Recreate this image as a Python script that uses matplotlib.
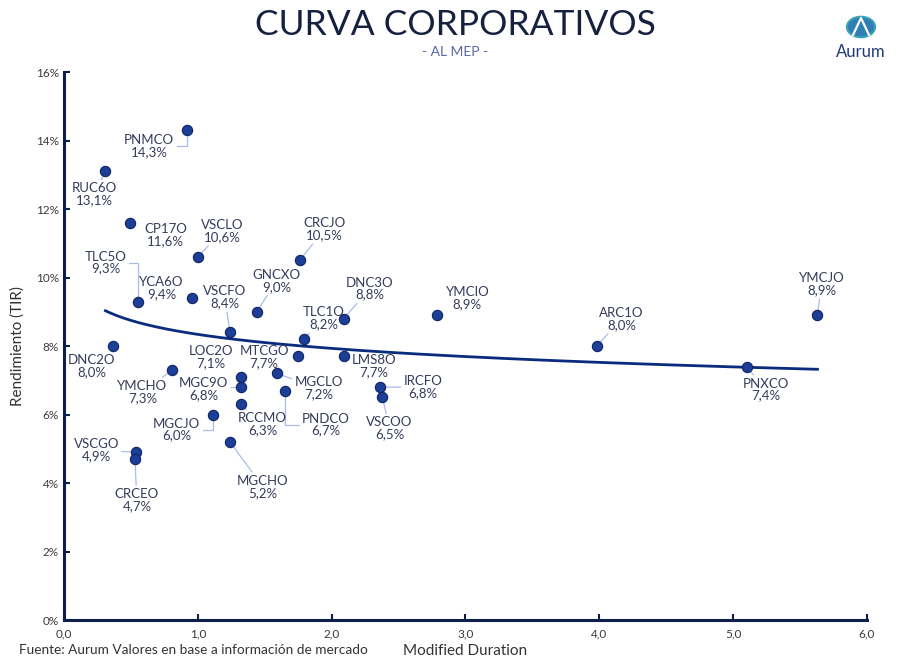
import numpy as np
import matplotlib
matplotlib.use("Agg")
import matplotlib.pyplot as plt
from matplotlib.patches import Circle
from matplotlib.ticker import FuncFormatter, MultipleLocator

# bonos: duration modificada y TIR (%)
tickers = ["PNMCO", "RUC6O", "CP17O", "VSCLO", "CRCJO", "TLC5O", "YCA6O",
           "GNCXO", "VSCFO", "DNC3O", "TLC1O", "YMCIO", "ARC1O", "YMCJO",
           "PNXCO", "DNC2O", "YMCHO", "MTCGO", "LMS8O", "LOC2O", "MGC9O",
           "MGCLO", "PNDCO", "RCCMO", "MGCJO", "MGCHO", "VSCGO", "CRCEO",
           "IRCFO", "VSCOO"]
duration = [0.92, 0.31, 0.49, 1.00, 1.76, 0.55, 0.96,
            1.44, 1.24, 2.09, 1.79, 2.79, 3.98, 5.63,
            5.10, 0.37, 0.81, 1.75, 2.09, 1.32, 1.32,
            1.59, 1.65, 1.32, 1.11, 1.24, 0.54, 0.53,
            2.36, 2.38]
tir = [14.3, 13.1, 11.6, 10.6, 10.5, 9.3, 9.4,
       9.0, 8.4, 8.8, 8.2, 8.9, 8.0, 8.9,
       7.4, 8.0, 7.3, 7.7, 7.7, 7.1, 6.8,
       7.2, 6.7, 6.3, 6.0, 5.2, 4.9, 4.7,
       6.8, 6.5]

# posicion de cada etiqueta respecto del punto (pixeles) y tipo de linea guia
# None = sin linea, "s" = recta, "a" = en angulo
label_pos = {
    "PNMCO": (-38, -16, "a"), "RUC6O": (-11, -23, "s"), "CP17O": (36, -12, None),
    "VSCLO": (24, 26, "s"), "CRCJO": (25, 31, "s"), "TLC5O": (-32, 39, "a"),
    "YCA6O": (-31, 10, None), "GNCXO": (20, 31, "s"), "VSCFO": (-5, 35, "s"),
    "DNC3O": (26, 30, "s"), "TLC1O": (20, 21, "s"), "YMCIO": (30, 17, None),
    "ARC1O": (25, 27, "s"), "YMCJO": (4, 31, "s"), "PNXCO": (19, -23, "s"),
    "DNC2O": (-22, -20, None), "YMCHO": (-30, -22, "s"), "MTCGO": (-34, -1, None),
    "LMS8O": (30, -10, None), "LOC2O": (-30, 20, None), "MGC9O": (-37, -2, "s"),
    "MGCLO": (42, -15, "s"), "PNDCO": (41, -34, "a"), "RCCMO": (22, -20, "s"),
    "MGCJO": (-36, -15, "a"), "MGCHO": (33, -45, "s"), "VSCGO": (-40, 2, "s"),
    "CRCEO": (2, -41, "s"), "IRCFO": (43, 0, "s"), "VSCOO": (7, -31, "s"),
}

navy = "#0b1f4a"
text_col = "#353b5a"
plt.rcParams["font.family"] = ["Lato", "DejaVu Sans"]

fig = plt.figure(figsize=(9.1, 6.61), dpi=100)
ax = fig.add_axes([0.0703, 0.062, 0.8824, 0.829])

# linea de tendencia logaritmica
coef = np.polyfit(np.log(duration), tir, 1)
xs = np.linspace(min(duration), max(duration), 200)
ax.plot(xs, coef[0] * np.log(xs) + coef[1], color="#0a2c7e", lw=2, zorder=2)

ax.scatter(duration, tir, s=55, color="#1d3e96", edgecolor="#0d2366",
           linewidth=0.8, zorder=4)

for name, x, y in zip(tickers, duration, tir):
    dx, dy, guide = label_pos[name]
    props = None
    if guide is not None:
        props = dict(arrowstyle="-", color="#a9bde6", lw=0.9,
                     shrinkA=0, shrinkB=3)
        if guide == "a":
            props["connectionstyle"] = "angle,angleA=0,angleB=90,rad=0"
    ax.annotate(f"{name}\n{y:.1f}%".replace(".", ","), (x, y),
                xytext=(dx, dy), textcoords="offset pixels",
                ha="center", va="center", fontsize=9.5, color=text_col,
                linespacing=1.0, arrowprops=props, zorder=3)

ax.set_xlim(0, 6)
ax.set_ylim(0, 16)
ax.xaxis.set_major_locator(MultipleLocator(1))
ax.yaxis.set_major_locator(MultipleLocator(2))
ax.xaxis.set_major_formatter(FuncFormatter(lambda v, p: f"{v:.1f}".replace(".", ",")))
ax.yaxis.set_major_formatter(FuncFormatter(lambda v, p: f"{v:.0f}%"))
ax.tick_params(direction="in", length=4, width=1.5, color=navy,
               labelsize=8.5, labelcolor="#3a3a3a")
ax.tick_params(axis="x", pad=6)
for s in ["top", "right"]:
    ax.spines[s].set_visible(False)
for s in ["left", "bottom"]:
    ax.spines[s].set_color(navy)
    ax.spines[s].set_linewidth(2.2)

ax.set_ylabel("Rendimiento (TIR)", fontsize=11, color="#333333", labelpad=8)
fig.text(0.511, 0.005, "Modified Duration", ha="center", va="bottom",
         fontsize=11, color="#333333")
fig.text(0.021, 0.007, "Fuente: Aurum Valores en base a información de mercado",
         ha="left", va="bottom", fontsize=9.8, color="#333333")

fig.text(0.501, 0.962, "CURVA CORPORATIVOS", ha="center", va="center",
         fontsize=25.5, color="#14213f")
fig.text(0.5, 0.921, "- AL MEP -", ha="center", va="center",
         fontsize=10, color="#5a67a8")

# logo
logo = Circle((861 / 910, 1 - 27 / 661), 0.0155, transform=fig.transFigure,
              facecolor="#2f7fb5", edgecolor="#3aa3b8", lw=1.5)
fig.patches.append(logo)
fig.lines.append(plt.Line2D([853 / 910, 861 / 910, 869 / 910],
                            [1 - 35 / 661, 1 - 18 / 661, 1 - 35 / 661],
                            transform=fig.transFigure, color="white", lw=1.6))
fig.text(861 / 910, 1 - 52 / 661, "Aurum", ha="center", va="center",
         fontsize=12, color="#1f3a7a")

fig.savefig("out.png", dpi=100)
